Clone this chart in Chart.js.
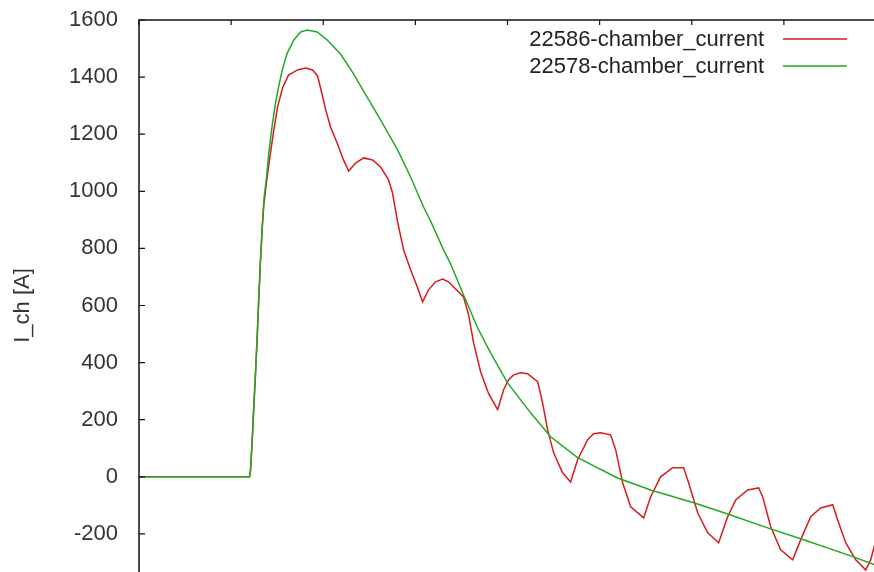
<!DOCTYPE html>
<html>
<head>
<meta charset="utf-8">
<script src="https://cdn.jsdelivr.net/npm/chart.js@4.4.1/dist/chart.umd.min.js"></script>
<style>
  body { margin: 0; background: #fff; }
  #caja { width: 874px; height: 572px; overflow: hidden; position: relative; }
</style>
</head>
<body>
<div id="caja">
  <canvas id="corriente" width="880" height="600"></canvas>
</div>
<script>
// Datos (eje x en divisiones, eje y en A)
const tiempo22586 = [0, 1.200, 1.211, 1.229, 1.246, 1.265, 1.283, 1.301, 1.319, 1.338, 1.355,
  1.384, 1.417, 1.460, 1.504, 1.558, 1.623, 1.721, 1.808, 1.884, 1.938, 1.971, 2.025, 2.079,
  2.155, 2.220, 2.275, 2.351, 2.438, 2.535, 2.622, 2.709, 2.752, 2.807, 2.872, 2.948, 3.024,
  3.078, 3.143, 3.219, 3.295, 3.360, 3.415, 3.523, 3.578, 3.632, 3.708, 3.795, 3.893, 3.958,
  4.012, 4.066, 4.142, 4.218, 4.327, 4.381, 4.435, 4.501, 4.598, 4.685, 4.761, 4.870, 4.935,
  5.011, 5.119, 5.174, 5.250, 5.337, 5.478, 5.554, 5.662, 5.793, 5.912, 5.966, 6.064, 6.173,
  6.292, 6.390, 6.477, 6.607, 6.726, 6.770, 6.857, 6.965, 7.096, 7.182, 7.291, 7.400, 7.530,
  7.584, 7.671, 7.780, 7.888, 7.942, 7.986];
const corriente22586 = [0, 0, 25, 130, 245, 364, 490, 630, 760, 875, 952,
  1033, 1110, 1208, 1295, 1362, 1407, 1425, 1432, 1425, 1404, 1362, 1288, 1225,
  1166, 1110, 1071, 1099, 1117, 1110, 1085, 1040, 994, 893, 795, 725, 662,
  613, 655, 683, 693, 683, 665, 630, 567, 469, 368, 291, 235, 305,
  340, 357, 364, 361, 333, 259, 165, 84, 14, -18, 60, 130, 151,
  154, 147, 95, -21, -105, -144, -70, 0, 32, 32, -21, -126, -196,
  -231, -140, -81, -46, -39, -70, -175, -256, -291, -221, -140, -109, -98,
  -151, -231, -291, -326, -291, -238];

const tiempo22578 = [0, 1.200, 1.211, 1.229, 1.246, 1.265, 1.283, 1.301, 1.319, 1.338, 1.355,
  1.384, 1.409, 1.446, 1.482, 1.518, 1.555, 1.609, 1.681, 1.754, 1.826, 1.935, 2.043, 2.188,
  2.329, 2.481, 2.622, 2.807, 2.948, 3.089, 3.165, 3.306, 3.382, 3.523, 3.675, 3.816, 4.001,
  4.251, 4.468, 4.761, 5.195, 5.554, 6.021, 6.390, 6.824, 7.182, 7.725, 7.986];
const corriente22578 = [0, 0, 25, 130, 245, 364, 490, 630, 760, 875, 970,
  1047, 1134, 1232, 1309, 1369, 1425, 1484, 1530, 1558, 1565, 1558, 1530, 1481,
  1411, 1327, 1250, 1145, 1050, 945, 896, 795, 746, 637, 522, 434, 329,
  224, 140, 67, -4, -46, -91, -130, -179, -217, -277, -308];

const marcasY = [-400, 1600];
const pasoY = 200;
const rangoX = [0, 8];

function puntos(xs, ys) {
    return xs.map((x, i) => ({ x: x, y: ys[i] }));
}

const fuente = { family: '"Liberation Sans", Arial, sans-serif', size: 22 };

// marco y marcas hacia adentro, al estilo gnuplot
const marco = {
    id: 'marco',
    afterDatasetsDraw(chart) {
        const ctx = chart.ctx;
        const area = chart.chartArea;
        const ejeX = chart.scales.x;
        const ejeY = chart.scales.y;
        ctx.save();
        ctx.strokeStyle = '#111';
        ctx.lineWidth = 1.5;
        ctx.beginPath();
        ctx.moveTo(area.left, area.bottom);
        ctx.lineTo(area.left, area.top);
        ctx.lineTo(area.right, area.top);
        ctx.stroke();
        ctx.lineWidth = 1.2;
        ctx.beginPath();
        ejeY.ticks.forEach(t => {
            const py = ejeY.getPixelForValue(t.value);
            ctx.moveTo(area.left, py);
            ctx.lineTo(area.left + 6, py);
        });
        ejeX.ticks.forEach(t => {
            const px = ejeX.getPixelForValue(t.value);
            ctx.moveTo(px, area.top);
            ctx.lineTo(px, area.top + 5);
        });
        ctx.stroke();
        ctx.restore();
    },
    afterDraw(chart) {
        // leyenda: texto alineado a la derecha, luego la muestra de linea
        const ctx = chart.ctx;
        ctx.save();
        ctx.font = fuente.size + 'px ' + fuente.family;
        ctx.textAlign = 'right';
        ctx.textBaseline = 'middle';
        chart.data.datasets.forEach((ds, i) => {
            const y = 39 + i * 27;
            ctx.fillStyle = '#222';
            ctx.fillText(ds.label, 764, y + 1);
            ctx.strokeStyle = ds.borderColor;
            ctx.lineWidth = 1.5;
            ctx.beginPath();
            ctx.moveTo(783, y);
            ctx.lineTo(847, y);
            ctx.stroke();
        });
        ctx.restore();
    }
};

let grafico = new Chart(
    document.getElementById('corriente').getContext('2d'),
    {
        type: 'line',
        data: {
            datasets: [{
                label: '22586-chamber_current',
                data: puntos(tiempo22586, corriente22586),
                borderColor: '#d41c1c',
                borderWidth: 1.5,
                pointRadius: 0,
                tension: 0,
                order: 1
            }, {
                label: '22578-chamber_current',
                data: puntos(tiempo22578, corriente22578),
                borderColor: '#22a822',
                borderWidth: 1.5,
                pointRadius: 0,
                tension: 0,
                order: 0
            }]
        },
        options: {
            responsive: false,
            animation: false,
            layout: { padding: { top: 20, right: 4, bottom: 9, left: 0 } },
            plugins: {
                legend: { display: false },
                tooltip: { enabled: false }
            },
            scales: {
                x: {
                    type: 'linear',
                    display: false,
                    min: rangoX[0],
                    max: rangoX[1],
                    ticks: { stepSize: 1 }
                },
                y: {
                    min: marcasY[0],
                    max: marcasY[1],
                    afterFit: (eje) => {
                        eje.width = 139;
                        eje.paddingTop = 0;
                        eje.paddingBottom = 0;
                    },
                    ticks: {
                        stepSize: pasoY,
                        padding: 21,
                        color: '#333',
                        font: fuente,
                        callback: (v) => String(v)
                    },
                    grid: { display: false, drawTicks: false },
                    border: { display: false },
                    title: {
                        display: true,
                        text: 'I_ch [A]',
                        color: '#333',
                        font: fuente,
                        padding: { top: 10, bottom: 0 }
                    }
                }
            }
        },
        plugins: [marco]
    });
</script>
</body>
</html>
